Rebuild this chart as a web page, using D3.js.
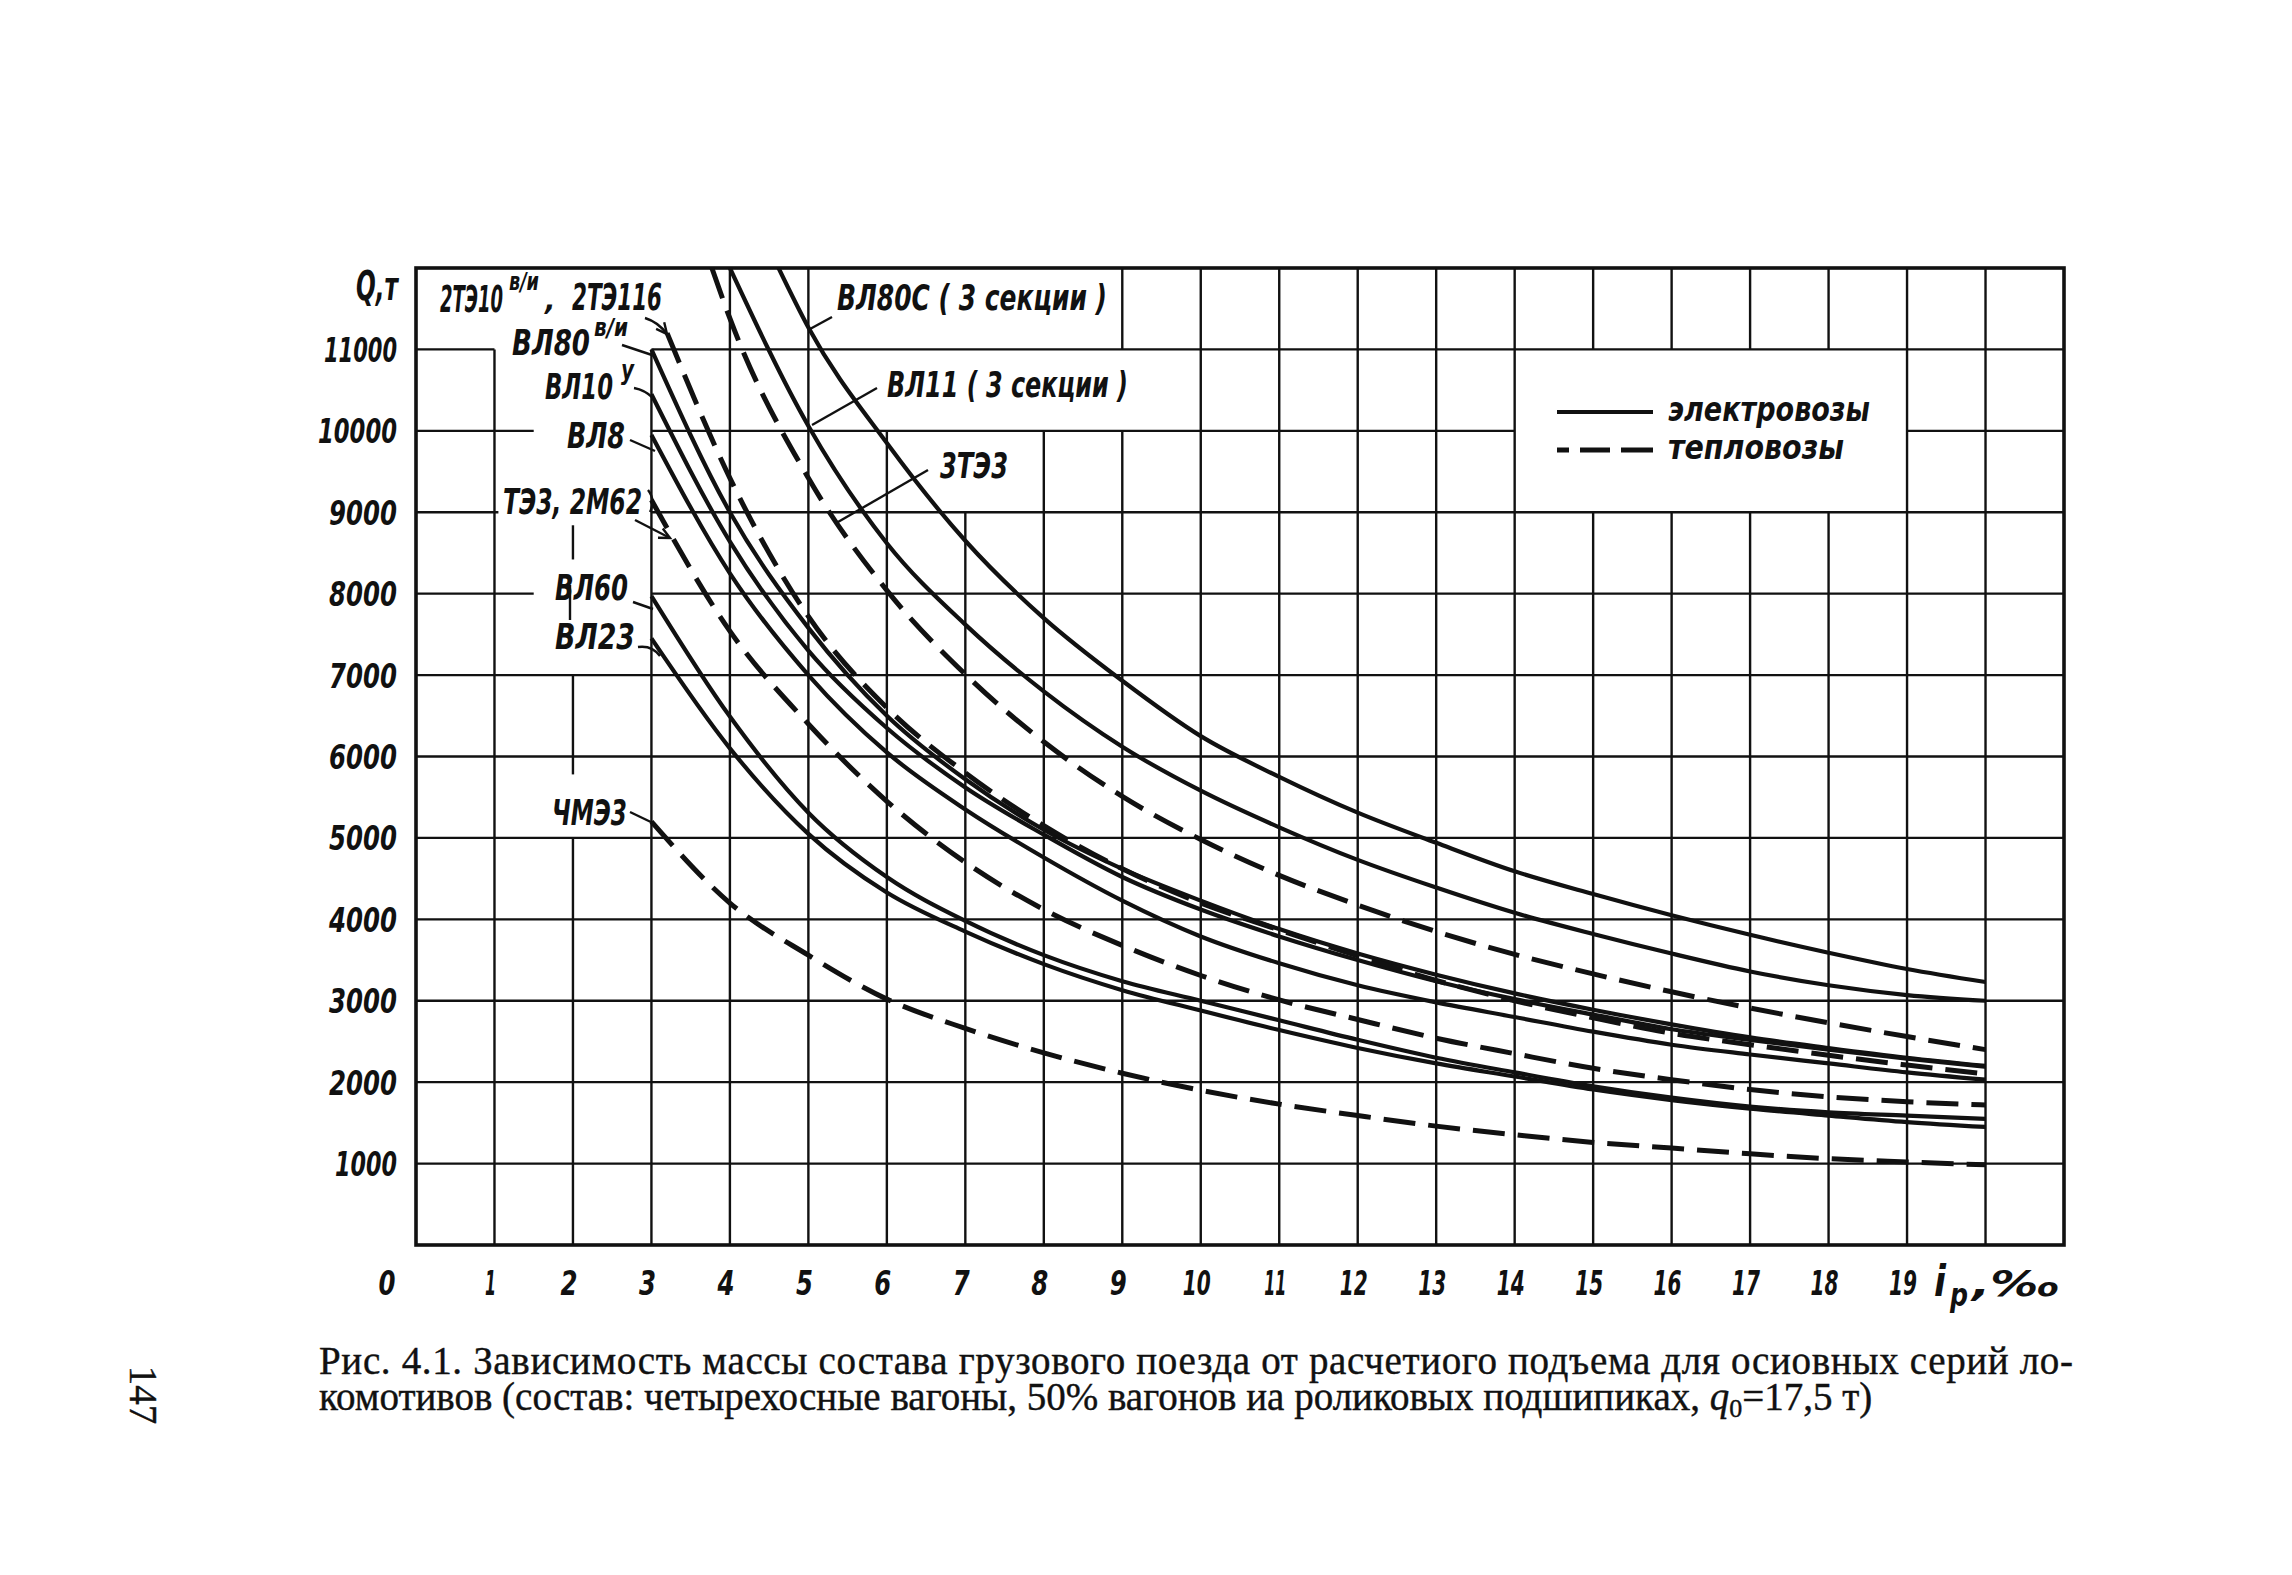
<!DOCTYPE html>
<html>
<head>
<meta charset="utf-8">
<script src="https://cdn.jsdelivr.net/npm/d3@7"></script>
<style>
  body { margin: 0; background: #fff; }
  svg { display: block; }
  .lbl { font-family: "DejaVu Sans", sans-serif; font-style: italic; font-weight: bold; fill: #111; }
  .cap { font-family: "Liberation Serif", "Times New Roman", serif; fill: #111; stroke: #111; stroke-width: 0.4px; }
</style>
</head>
<body>
<svg id="chart" width="2292" height="1575"></svg>
<script>
// ---- data: grade i_p (‰) -> train mass Q (t) ----
const xTicks = [0, 1, 2, 3, 4, 5, 6, 7, 8, 9, 10, 11, 12, 13, 14, 15, 16, 17, 18, 19];
const yTicks = [1000, 2000, 3000, 4000, 5000, 6000, 7000, 8000, 9000, 10000, 11000];

// electric locomotives (solid)
const vl80s = [[4.62,12000],[5,11270],[6,9850],[7,8650],[8,7700],[9,6930],[10,6250],[11,5750],[12,5310],[13,4940],[14,4590],[15,4310],[16,4050],[17,3810],[18,3590],[19,3390],[20,3230]];
const vl11 = [[4.0,12000],[5,10060],[6,8620],[7,7620],[8,6800],[9,6120],[10,5580],[11,5130],[12,4730],[13,4390],[14,4080],[15,3820],[16,3580],[17,3360],[18,3190],[19,3070],[20,3000]];
const vl80vi = [[3,11000],[4,9000],[5,7580],[6,6500],[7,5720],[8,5100],[9,4620],[10,4230],[11,3880],[12,3580],[13,3320],[14,3090],[15,2890],[16,2710],[17,2550],[18,2420],[19,2300],[20,2200]];
const vl10u = [[3,10450],[4,8640],[5,7300],[6,6350],[7,5620],[8,5040],[9,4520],[10,4120],[11,3790],[12,3500],[13,3240],[14,3020],[15,2830],[16,2650],[17,2520],[18,2400],[19,2290],[20,2190]];
const vl8 = [[3,9950],[4,8250],[5,7000],[6,6050],[7,5350],[8,4760],[9,4230],[10,3790],[11,3460],[12,3190],[13,2980],[14,2800],[15,2620],[16,2460],[17,2340],[18,2230],[19,2120],[20,2030]];
const vl60 = [[3,7970],[4,6490],[5,5310],[6,4520],[7,3980],[8,3560],[9,3240],[10,3000],[11,2760],[12,2520],[13,2300],[14,2120],[15,1950],[16,1810],[17,1700],[18,1630],[19,1590],[20,1550]];
const vl23 = [[3,7450],[4,6100],[5,5050],[6,4330],[7,3850],[8,3450],[9,3130],[10,2880],[11,2640],[12,2420],[13,2230],[14,2070],[15,1910],[16,1780],[17,1675],[18,1590],[19,1510],[20,1450]];

// diesel locomotives (dashed)
const te3x3 = [[3.77,12000],[4,11380],[5,9420],[6,8040],[7,7010],[8,6180],[9,5510],[10,4980],[11,4540],[12,4175],[13,3850],[14,3570],[15,3330],[16,3110],[17,2910],[18,2730],[19,2560],[20,2400]];
const te10 = [[3.2,11200],[4,9420],[5,7720],[6,6600],[7,5800],[8,5150],[9,4620],[10,4200],[11,3870],[12,3550],[13,3250],[14,3000],[15,2790],[16,2600],[17,2460],[18,2330],[19,2210],[20,2100]];
const te3 = [[3,9150],[4,7540],[5,6400],[6,5450],[7,4700],[8,4120],[9,3680],[10,3310],[11,3010],[12,2770],[13,2540],[14,2350],[15,2170],[16,2030],[17,1910],[18,1820],[19,1760],[20,1720]];
const chme3 = [[3,5200],[4,4200],[5,3560],[6,3020],[7,2660],[8,2360],[9,2110],[10,1900],[11,1730],[12,1590],[13,1460],[14,1355],[15,1260],[16,1190],[17,1120],[18,1060],[19,1020],[20,985]];

const solidSeries = [vl80s, vl11, vl80vi, vl10u, vl8, vl60, vl23];
const dashedSeries = [te3x3, te10, te3, chme3];

// ---- layout ----
const svg = d3.select('#chart');
const x = d3.scaleLinear().domain([0, 21]).range([416, 2064]);
const y = d3.scaleLinear().domain([0, 12000]).range([1245, 268]);
const ink = '#111';

// grid lines are broken where the labels sit
const vertSegments = {
  1: [[0, 11000]],
  2: [[0, 5000], [5780, 7000], [8420, 8840]],
  3: [[0, 11000]],
  6: [[0, 10000]],
  7: [[0, 9000]],
  8: [[0, 10000]],
  9: [[0, 10000], [11000, 12000]],
  15: [[0, 9000], [11000, 12000]],
  16: [[0, 9000], [11000, 12000]],
  17: [[0, 9000], [11000, 12000]],
  18: [[0, 9000], [11000, 12000]]
};
const horizSegments = {
  11000: [[0, 1], [3, 21]],
  10000: [[0, 1.5], [3, 14], [19, 21]],
  9000: [[0, 1.05], [3, 21]],
  8000: [[0, 1.5], [3, 21]]
};

const grid = svg.append('g').attr('stroke', ink).attr('stroke-width', 2.4);
d3.range(1, 21).forEach(k => {
  (vertSegments[k] || [[0, 12000]]).forEach(s => {
    grid.append('line')
      .attr('x1', x(k)).attr('x2', x(k))
      .attr('y1', y(s[0])).attr('y2', y(s[1]));
  });
});
yTicks.forEach(q => {
  (horizSegments[q] || [[0, 21]]).forEach(s => {
    grid.append('line')
      .attr('x1', x(s[0])).attr('x2', x(s[1]))
      .attr('y1', y(q)).attr('y2', y(q));
  });
});

// frame
svg.append('rect')
  .attr('x', x(0)).attr('y', y(12000))
  .attr('width', x(21) - x(0)).attr('height', y(0) - y(12000))
  .attr('fill', 'none').attr('stroke', ink).attr('stroke-width', 3.6);

// curves
svg.append('clipPath').attr('id', 'plot')
  .append('rect')
  .attr('x', x(0)).attr('y', y(12000))
  .attr('width', x(21) - x(0)).attr('height', y(0) - y(12000));

const line = d3.line()
  .x(d => x(d[0]))
  .y(d => y(d[1]))
  .curve(d3.curveMonotoneX);

const curves = svg.append('g').attr('clip-path', 'url(#plot)').attr('fill', 'none');
curves.selectAll('.solid')
  .data(solidSeries)
  .enter().append('path')
  .attr('class', 'solid')
  .attr('d', line)
  .attr('stroke', ink).attr('stroke-width', 4.2);

curves.selectAll('.dashed')
  .data(dashedSeries)
  .enter().append('path')
  .attr('class', 'dashed')
  .attr('d', line)
  .attr('stroke', ink).attr('stroke-width', 5)
  .attr('stroke-dasharray', '32,13');

// ---- text helpers ----
function label(txt, px, py, size, w, anchor) {
  const t = svg.append('text')
    .attr('class', 'lbl')
    .attr('x', px).attr('y', py)
    .attr('font-size', size)
    .attr('text-anchor', anchor || 'start')
    .text(txt);
  if (w) t.attr('textLength', w).attr('lengthAdjust', 'spacingAndGlyphs');
  return t;
}
const digitWidth = s => s.split('').reduce((a, c) => a + (c === '1' ? 11 : 17), 0);

// y ticks
yTicks.forEach(q => {
  const s = String(q);
  label(s, 397, y(q) + 12.5, 34, digitWidth(s), 'end');
});
label('Q,т', 398, 300, 40, 42, 'end');

// x ticks
xTicks.forEach(k => {
  const s = String(k);
  const cx = k === 0 ? 387 : x(k) - 4;
  label(s, cx, 1295, 34, digitWidth(s), 'middle');
});
label('i', 1934, 1296, 42, 12);
label('p', 1950, 1306, 32, 18);
label(',‰', 1972, 1296, 36, 88);

// curve labels
label('2ТЭ10', 440, 312, 37, 63);
label('в/и', 509, 290, 24, 30);
label(',', 545, 310, 28);
label('2ТЭ116', 572, 310, 37, 90);
label('ВЛ80', 512, 355, 36, 78);
label('в/и', 594, 336, 24, 34);
label('ВЛ10', 545, 399, 36, 68);
label('у', 621, 379, 26, 13);
label('ВЛ8', 567, 448, 36, 58);
label('ТЭ3, 2М62', 503, 514, 36, 139);
label('ВЛ60', 555, 600, 36, 73);
label('ВЛ23', 555, 649, 36, 80);
label('ЧМЭ3', 552, 825, 36, 75);
label('ВЛ80С ( 3 секции )', 837, 310, 36, 270);
label('ВЛ11 ( 3 секции )', 887, 397, 36, 241);
label('3ТЭ3', 940, 478, 36, 68);

// leaders
const leaders = svg.append('g').attr('fill', 'none').attr('stroke', ink).attr('stroke-width', 2.4);
[
  'M645,318 Q658,322 667,334',
  'M622,345 L655,356',
  'M634,388 Q645,390 653,398',
  'M630,440 L655,451',
  'M648,490 Q656,500 650,512',
  'M635,520 L670,538',
  'M633,602 L653,609',
  'M638,647 Q652,645 660,656',
  'M630,812 L655,824',
  'M832,317 L810,329',
  'M877,388 L812,425',
  'M928,470 L838,522',
  'M570,585 L570,620'
].forEach(d => leaders.append('path').attr('d', d));

// small arrow heads on the two diesel pointers
function arrowHead(x1, y1, x2, y2) {
  const a = Math.atan2(y2 - y1, x2 - x1), L = 12, s = 0.45;
  leaders.append('path')
    .attr('d', `M${x2 - L * Math.cos(a - s)},${y2 - L * Math.sin(a - s)} L${x2},${y2} L${x2 - L * Math.cos(a + s)},${y2 - L * Math.sin(a + s)}`);
}
arrowHead(658, 323, 667, 334);
arrowHead(635, 520, 670, 538);

// legend
svg.append('line').attr('x1', 1557).attr('x2', 1653).attr('y1', 412).attr('y2', 412)
  .attr('stroke', ink).attr('stroke-width', 4.2);
svg.append('line').attr('x1', 1557).attr('x2', 1653).attr('y1', 450).attr('y2', 450)
  .attr('stroke', ink).attr('stroke-width', 5).attr('stroke-dasharray', '12,11,30,11,34');
label('электровозы', 1668, 421, 34, 202);
label('тепловозы', 1668, 459, 34, 176);

// caption
svg.append('text').attr('class', 'cap')
  .attr('x', 319).attr('y', 1374).attr('font-size', 39)
  .attr('textLength', 1754).attr('lengthAdjust', 'spacing')
  .text('Рис. 4.1. Зависимость массы состава грузового поезда от расчетиого подъема для осиовных серий ло-');
const cap2 = svg.append('text').attr('class', 'cap')
  .attr('x', 319).attr('y', 1410).attr('font-size', 39);
cap2.append('tspan').text('комотивов (состав: четырехосные вагоны, 50% вагонов иа роликовых подшипиках, ');
cap2.append('tspan').attr('font-style', 'italic').text('q');
cap2.append('tspan').attr('font-size', 26).attr('dy', 7).text('0');
cap2.append('tspan').attr('dy', -7).text('=17,5 т)');

// page number, printed sideways
svg.append('text').attr('class', 'cap')
  .attr('transform', 'translate(130,1395) rotate(90)')
  .attr('font-size', 39).attr('text-anchor', 'middle')
  .text('147');
</script>
</body>
</html>
